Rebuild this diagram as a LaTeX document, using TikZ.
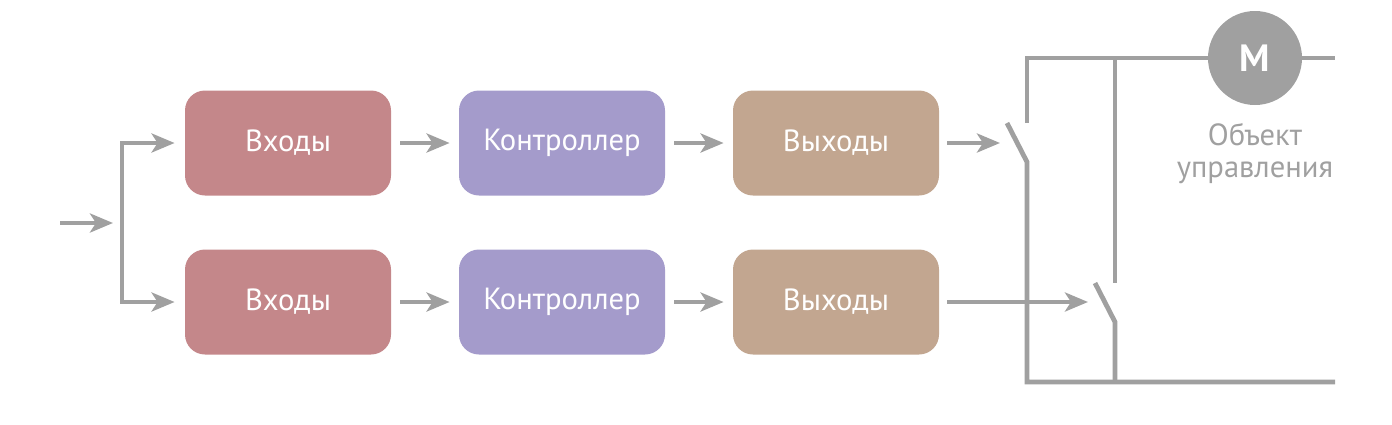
\documentclass[tikz,border=0pt]{standalone}
\usepackage{fontspec}
\setmainfont{PT Sans}
\usetikzlibrary{arrows.meta}
\definecolor{wire}{HTML}{A0A0A0}
\definecolor{inbox}{HTML}{C4878A}
\definecolor{ctlbox}{HTML}{A49BCB}
\definecolor{outbox}{HTML}{C2A690}
\tikzset{
  block/.style={rounded corners=10pt, minimum width=103pt, minimum height=52.5pt, inner sep=0pt, text=white, font=\fontsize{15.3}{17}\selectfont},
  wireline/.style={wire, line width=2.4pt},
  flow/.style={wireline, -{Stealth[length=11.5pt,width=9.5pt,inset=3pt]}},
  motor/.style={circle, fill=wire, minimum size=47pt, inner sep=0pt, text=white, font=\fontsize{19}{22}\selectfont\bfseries},
}
\begin{document}
\begin{tikzpicture}[x=0.5pt,y=-0.5pt]
  \useasboundingbox (0,0) rectangle (1392,424);
  % blocks
  \node[block, fill=inbox] (in1) at (288,143) {Входы};
  \node[block, fill=ctlbox] (ctl1) at (562,143) {Контроллер};
  \node[block, fill=outbox] (out1) at (836,143) {Выходы};
  \node[block, fill=inbox] (in2) at (288,302) {Входы};
  \node[block, fill=ctlbox] (ctl2) at (562,302) {Контроллер};
  \node[block, fill=outbox] (out2) at (836,302) {Выходы};
  % input and fork
  \coordinate (src) at (60,223);
  \coordinate (fork) at (122,223);
  \draw[flow, shorten >=4.5pt] (src) -- (fork);
  \draw[flow, shorten >=5pt] (fork) |- (in1);
  \draw[flow, shorten >=5pt] (fork) |- (in2);
  \draw[flow, shorten <=4.5pt, shorten >=4.5pt] (in1) -- (ctl1);
  \draw[flow, shorten <=4.5pt, shorten >=4.5pt] (ctl1) -- (out1);
  \draw[flow, shorten <=4.5pt, shorten >=4.5pt] (in2) -- (ctl2);
  \draw[flow, shorten <=4.5pt, shorten >=4.5pt] (ctl2) -- (out2);
  % switches
  \coordinate (hit1) at (1000,143);
  \coordinate (hit2) at (1088,302);
  \coordinate (lev1a) at (1007,123);
  \coordinate (lev1b) at (1027,162);
  \coordinate (top1) at (1027,123);
  \coordinate (botL) at (1027,382);
  \coordinate (topR) at (1335,58);
  \coordinate (botR) at (1335,382);
  \coordinate (lev2a) at (1095,283);
  \coordinate (lev2b) at (1115,322);
  \coordinate (top2) at (1115,283);
  \coordinate (tap) at (1115,58);
  \coordinate (bot2) at (1115,382);
  \draw[wireline] (top1) |- (topR);
  \draw[wireline] (lev1a) -- (lev1b) -- (botL) -- (botR);
  \draw[wireline] (tap) -- (top2);
  \draw[wireline] (lev2a) -- (lev2b) -- (bot2);
  \draw[flow, shorten <=4pt] (out1) -- (hit1);
  \draw[flow, shorten <=4pt] (out2) -- (hit2);
  % load
  \node[motor] (motor) at (1255,58) {M};
  \node[text=wire, align=center, font=\fontsize{15.3}{16}\selectfont, anchor=north] (load) at (1255,116) {Объект\\управления};
\end{tikzpicture}
\end{document}
